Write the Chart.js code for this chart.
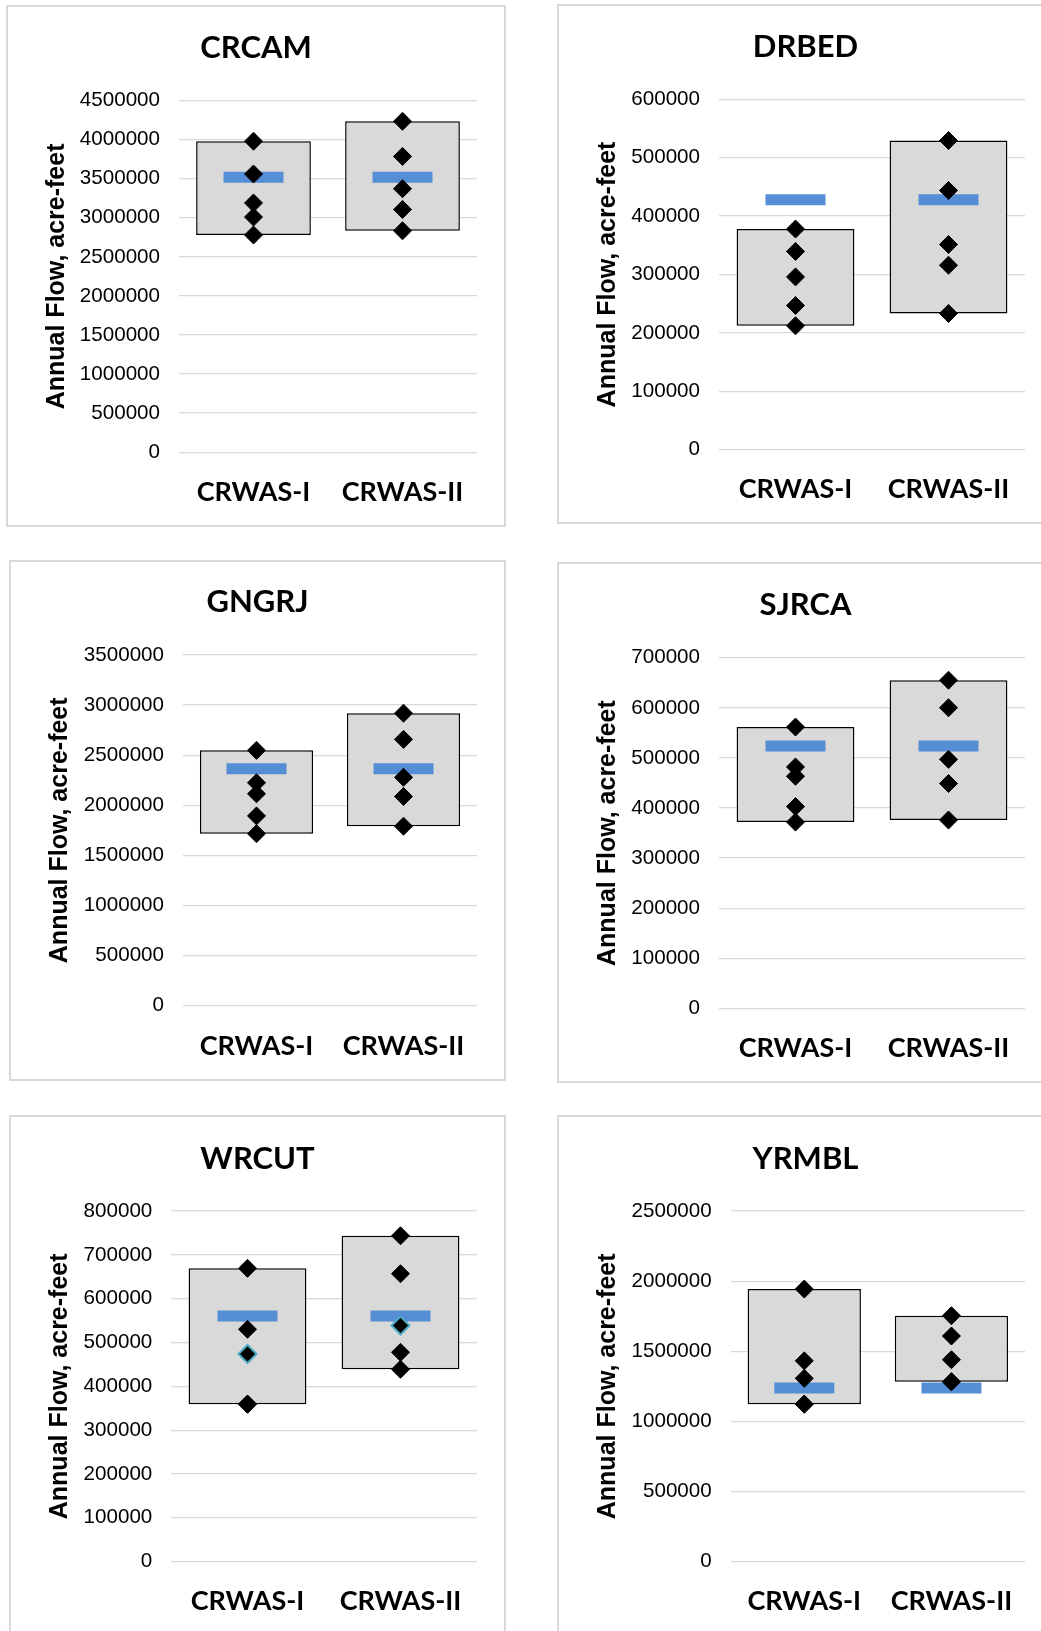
<!DOCTYPE html>
<html>
<head>
<meta charset="utf-8">
<script src="https://cdn.jsdelivr.net/npm/chart.js@4.4.1/dist/chart.umd.min.js"></script>
<style>
  html, body { margin: 0; padding: 0; background: #fff; overflow: hidden; }
  body { width: 1041px; height: 1631px; position: relative; }
  .frame { position: absolute; box-sizing: border-box; border: 2px solid #d9d9d9; background: #fff; }
  canvas { position: absolute; }
</style>
</head>
<body>
<script>
// categories shared by all six charts
var categories = ['CRWAS-I', 'CRWAS-II'];

// CRCAM
var crcamCrwas1 = [3980000, 3560000, 3190000, 3010000, 2780000];
var crcamCrwas2 = [4235000, 3786000, 3372000, 3107000, 2834000];
var crcamBase = 3520000;
var crcamTicks = [0, 500000, 1000000, 1500000, 2000000, 2500000, 3000000, 3500000, 4000000, 4500000];

// DRBED
var drbedCrwas1 = [377800, 339500, 295900, 247000, 212200];
var drbedCrwas2 = [529300, 443800, 351300, 315900, 233400];
var drbedBase = 428000;
var drbedTicks = [0, 100000, 200000, 300000, 400000, 500000, 600000];

// GNGRJ
var gngrjCrwas1 = [2548000, 2224000, 2114000, 1894000, 1716000];
var gngrjCrwas2 = [2919000, 2658000, 2279000, 2087000, 1791000];
var gngrjBase = 2365000;
var gngrjTicks = [0, 500000, 1000000, 1500000, 2000000, 2500000, 3000000, 3500000];

// SJRCA
var sjrcaCrwas1 = [561800, 482000, 463500, 402900, 372000];
var sjrcaCrwas2 = [655300, 600300, 497200, 449000, 376100];
var sjrcaBase = 524000;
var sjrcaTicks = [0, 100000, 200000, 300000, 400000, 500000, 600000, 700000];

// WRCUT
var wrcutCrwas1 = [669400, 530300, 473800, 359400, 359400];
var wrcutCrwas2 = [743600, 657000, 538700, 477700, 439000];
var wrcutBase = 560400;
var wrcutTicks = [0, 100000, 200000, 300000, 400000, 500000, 600000, 700000, 800000];

// YRMBL
var yrmblCrwas1 = [1944000, 1432000, 1307000, 1123000, 1123000];
var yrmblCrwas2 = [1754000, 1609000, 1440000, 1283000, 1283000];
var yrmblBase = 1239000;
var yrmblTicks = [0, 500000, 1000000, 1500000, 2000000, 2500000];

var GRAY = '#d9d9d9';
var BLUE = '#558ed5';
var RING = '#4bacc6';
var TITLE_PX = 31, CAT_PX = 27, TICK_PX = 20.6, YTITLE_PX = 25;

// page geometry of each panel (frame, plot area, text anchors)
var panels = [
  { title: 'CRCAM', s1: crcamCrwas1, s2: crcamCrwas2, base: crcamBase, ticks: crcamTicks, ring: -1,
    box: { x: 6, y: 5, w: 500, h: 522 }, plot: { l: 179, r: 477, t: 100.6, b: 452.2 },
    titleY: 47.7, yTitleX: 57, tickRight: 160, catY: 492.5 },
  { title: 'DRBED', s1: drbedCrwas1, s2: drbedCrwas2, base: drbedBase, ticks: drbedTicks, ring: -1,
    box: { x: 557, y: 4, w: 497, h: 520 }, plot: { l: 719, r: 1025, t: 99.2, b: 449.8 },
    titleY: 47.2, yTitleX: 608.3, tickRight: 700, catY: 489 },
  { title: 'GNGRJ', s1: gngrjCrwas1, s2: gngrjCrwas2, base: gngrjBase, ticks: gngrjTicks, ring: -1,
    box: { x: 9, y: 560, w: 497, h: 521 }, plot: { l: 183, r: 477, t: 655, b: 1005.6 },
    titleY: 601.7, yTitleX: 60, tickRight: 164, catY: 1045.9 },
  { title: 'SJRCA', s1: sjrcaCrwas1, s2: sjrcaCrwas2, base: sjrcaBase, ticks: sjrcaTicks, ring: -1,
    box: { x: 557, y: 562, w: 497, h: 521 }, plot: { l: 719, r: 1025, t: 657.8, b: 1008.4 },
    titleY: 605.1, yTitleX: 608.3, tickRight: 700, catY: 1048.3 },
  { title: 'WRCUT', s1: wrcutCrwas1, s2: wrcutCrwas2, base: wrcutBase, ticks: wrcutTicks, ring: 2,
    box: { x: 9, y: 1115, w: 497, h: 540 }, plot: { l: 171, r: 477, t: 1211.1, b: 1561.6 },
    titleY: 1159.3, yTitleX: 60, tickRight: 152.3, catY: 1601.2 },
  { title: 'YRMBL', s1: yrmblCrwas1, s2: yrmblCrwas2, base: yrmblBase, ticks: yrmblTicks, ring: -1,
    box: { x: 557, y: 1115, w: 497, h: 540 }, plot: { l: 730.7, r: 1025, t: 1211.1, b: 1561.6 },
    titleY: 1159.3, yTitleX: 608.3, tickRight: 711.7, catY: 1601.2 }
];

function drawPanel(p) {
    var frame = document.createElement('div');
    frame.className = 'frame';
    frame.style.left = p.box.x + 'px';
    frame.style.top = p.box.y + 'px';
    frame.style.width = p.box.w + 'px';
    frame.style.height = p.box.h + 'px';
    document.body.appendChild(frame);

    var canvas = document.createElement('canvas');
    canvas.width = p.box.w;
    canvas.height = p.box.h;
    canvas.style.left = p.box.x + 'px';
    canvas.style.top = p.box.y + 'px';
    document.body.appendChild(canvas);

    // same padding both sides so the title stays centred on the frame
    var side = p.box.x + p.box.w - p.plot.r;
    var axisLeft = p.box.x + side;
    var titleTop = p.titleY - p.box.y - TITLE_PX * 1.2 / 2;
    var titleBottom = p.plot.t - p.box.y - titleTop - TITLE_PX * 1.2;

    var datasets = [{
        type: 'bar',
        data: [[Math.min.apply(null, p.s1), Math.max.apply(null, p.s1)],
               [Math.min.apply(null, p.s2), Math.max.apply(null, p.s2)]],
        backgroundColor: GRAY,
        borderColor: '#000',
        borderWidth: 1.5,
        borderSkipped: false,
        barPercentage: 0.77,
        categoryPercentage: 1,
        order: 3
    }, {
        type: 'line',
        data: [p.base, p.base],
        showLine: false,
        pointStyle: 'line',
        pointRadius: 30,
        pointBorderWidth: 11,
        pointBorderColor: BLUE,
        pointBackgroundColor: BLUE,
        order: 2
    }];

    for (let k = 0; k < p.s1.length; k++) {
        datasets.push({
            type: 'line',
            data: [p.s1[k], p.s2[k]],
            showLine: false,
            pointStyle: 'rectRot',
            pointRadius: 9,
            pointBackgroundColor: '#000',
            pointBorderColor: k === p.ring ? RING : '#000',
            pointBorderWidth: k === p.ring ? 2 : 1,
            order: 1
        });
    }

    new Chart(canvas.getContext('2d'), {
        type: 'bar',
        data: { labels: categories, datasets: datasets },
        options: {
            responsive: false,
            animation: false,
            events: [],
            // the wide blue markers would otherwise push the plot in from the right
            layout: { autoPadding: false, padding: { left: side, right: side, top: 0, bottom: 0 } },
            plugins: {
                legend: { display: false },
                tooltip: { enabled: false },
                title: {
                    display: true,
                    text: p.title,
                    color: '#000',
                    font: { family: 'Lato', size: TITLE_PX, weight: 'bold' },
                    padding: { top: titleTop, bottom: titleBottom }
                }
            },
            scales: {
                x: {
                    grid: { display: false, drawTicks: false },
                    border: { display: false },
                    ticks: {
                        color: '#000',
                        padding: p.catY - p.plot.b - CAT_PX * 1.2 / 2,
                        font: { family: 'Lato', size: CAT_PX, weight: 'bold' }
                    },
                    afterFit: function (s) {
                        s.height = p.box.y + p.box.h - p.plot.b;
                        s.paddingLeft = 0;
                        s.paddingRight = 0;
                    }
                },
                y: {
                    min: p.ticks[0],
                    max: p.ticks[p.ticks.length - 1],
                    grid: { color: GRAY, lineWidth: 1.3, drawTicks: false },
                    border: { display: false },
                    ticks: {
                        stepSize: p.ticks[1] - p.ticks[0],
                        color: '#000',
                        padding: p.plot.l - p.tickRight,
                        font: { family: 'Liberation Sans', size: TICK_PX },
                        callback: function (v) { return String(Math.round(v)); }
                    },
                    title: {
                        display: true,
                        text: 'Annual Flow, acre-feet',
                        color: '#000',
                        font: { family: 'Liberation Sans', size: YTITLE_PX, weight: 'bold' },
                        padding: { top: p.yTitleX - axisLeft - YTITLE_PX * 1.2 / 2, bottom: 0 }
                    },
                    afterFit: function (s) { s.width = p.plot.l - axisLeft; }
                }
            }
        }
    });
}

panels.forEach(drawPanel);
</script>
</body>
</html>
